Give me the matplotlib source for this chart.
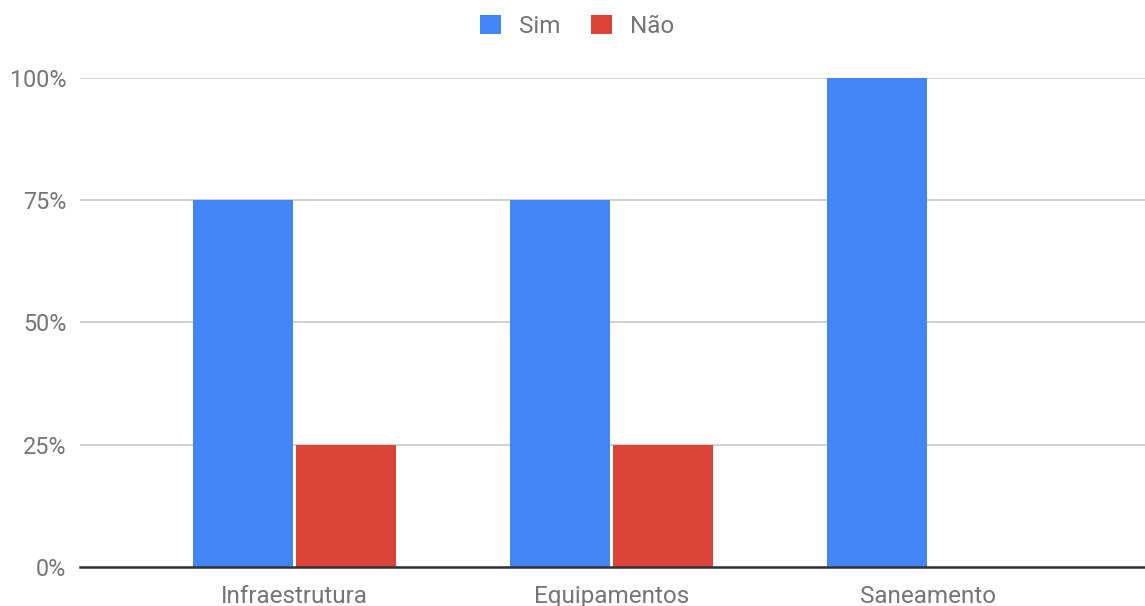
import matplotlib.pyplot as plt
import numpy as np

plt.rcParams['font.family'] = ['Roboto', 'DejaVu Sans']

categories = ['Infraestrutura', 'Equipamentos', 'Saneamento']
sim = [75, 75, 100]
nao = [25, 25, 0]
yticks = [0, 25, 50, 75, 100]
ytick_labels = ['0%', '25%', '50%', '75%', '100%']

BLUE = '#4285F4'
RED = '#DB4437'
TEXT = '#757575'


def main():
    fig = plt.figure(figsize=(11.45, 6.06), dpi=100)
    ax = fig.add_axes([80 / 1145, 39 / 606, 1065 / 1145, 489 / 606])

    x = np.arange(len(categories))
    w = 0.315
    gap = 0.005
    ax.bar(x - w / 2 - gap, sim, w, color=BLUE, label='Sim', zorder=3)
    ax.bar(x + w / 2 + gap, nao, w, color=RED, label='Não', zorder=3)

    ax.set_xlim(-0.677, 2.683)
    ax.set_ylim(0, 100)
    ax.set_yticks(yticks)
    ax.set_yticklabels(ytick_labels)
    ax.set_xticks(x)
    ax.set_xticklabels(categories)

    ax.tick_params(axis='both', length=0, colors=TEXT)
    ax.tick_params(axis='y', pad=9.8, labelsize=16.8)
    ax.tick_params(axis='x', pad=13, labelsize=17.5)

    ax.grid(axis='y', color='#cccccc', linewidth=1.3, zorder=0)
    for s in ['top', 'right', 'left']:
        ax.spines[s].set_visible(False)
    ax.spines['bottom'].set_color('#333333')
    ax.spines['bottom'].set_linewidth(1.8)
    ax.spines['bottom'].set_zorder(4)

    leg = fig.legend(loc='upper center', bbox_to_anchor=(0.504, 1.012), ncol=2,
                     frameon=False, fontsize=17.5, handlelength=0.85, handleheight=0.85,
                     columnspacing=1.25, handletextpad=0.75)
    for t in leg.get_texts():
        t.set_color(TEXT)

    fig.savefig('out.png', dpi=100)


if __name__ == '__main__':
    main()
